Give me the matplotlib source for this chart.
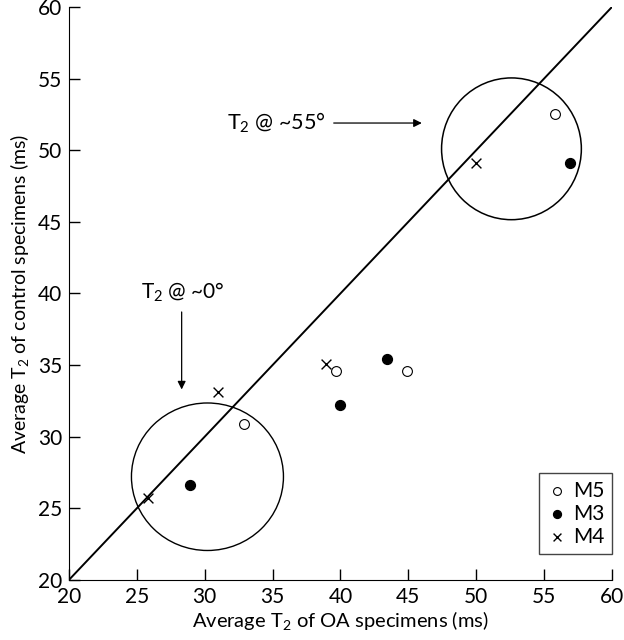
import matplotlib
matplotlib.use('Agg')
import matplotlib.pyplot as plt
from matplotlib.patches import Ellipse

# --- data
m5_x = [55.8, 32.9, 39.7, 44.9]
m5_y = [52.5, 30.9, 34.6, 34.6]
m3_x = [56.9, 28.9, 40.0, 43.4]
m3_y = [49.1, 26.6, 32.2, 35.4]
m4_x = [50.0, 25.8, 31.0, 38.9]
m4_y = [49.1, 25.7, 33.1, 35.1]

ticks = [20, 25, 30, 35, 40, 45, 50, 55, 60]

plt.rcParams['font.family'] = ['Lato', 'DejaVu Sans']
plt.rcParams['mathtext.fontset'] = 'custom'
plt.rcParams['mathtext.rm'] = 'Lato'
fig = plt.figure(figsize=(6.24, 6.4), dpi=100)
ax = fig.add_axes([0.1106, 0.094, 0.870, 0.895])

# identity line
ax.plot([20, 60], [20, 60], color='black', lw=1.4, zorder=2)

# groups
ax.add_patch(Ellipse((52.6, 50.1), 10.3, 9.9, fill=False, ec='black', lw=1.1))
ax.add_patch(Ellipse((30.2, 27.2), 11.2, 10.3, fill=False, ec='black', lw=1.0))

ax.scatter(m5_x, m5_y, s=50, facecolors='white', edgecolors='black', linewidths=0.8,
           label='M5', zorder=3)
ax.scatter(m3_x, m3_y, s=50, color='black', label='M3', zorder=3)
ax.scatter(m4_x, m4_y, s=50, marker='x', color='black', linewidths=1.0,
           label='M4', zorder=3)

# annotations
ax.annotate('', xy=(28.3, 33.1), xytext=(28.3, 38.9),
            arrowprops=dict(arrowstyle='-|>', color='black', lw=0.9,
                            mutation_scale=12))
ax.text(28.4, 40.1, 'T$_\\mathrm{2}$ @ ~0°', ha='center', va='center', fontsize=15)
ax.annotate('', xy=(46.2, 51.9), xytext=(39.3, 51.9),
            arrowprops=dict(arrowstyle='-|>', color='black', lw=0.9,
                            mutation_scale=12))
ax.text(35.3, 51.9, 'T$_\\mathrm{2}$ @ ~55°', ha='center', va='center', fontsize=15.5)

ax.set_xlim(20, 60)
ax.set_ylim(20, 60)
ax.set_xticks(ticks)
ax.set_yticks(ticks)
ax.tick_params(direction='in', length=8, width=1, labelsize=15, pad=5)
ax.spines['top'].set_visible(False)
ax.spines['right'].set_visible(False)
ax.set_xlabel('Average T$_\\mathrm{2}$ of OA specimens (ms)', fontsize=14.5, labelpad=2)
ax.set_ylabel('Average T$_\\mathrm{2}$ of control specimens (ms)', fontsize=14, labelpad=4)

leg = ax.legend(loc='lower right', bbox_to_anchor=(1.0, 0.045), fontsize=15,
                fancybox=False, edgecolor='#444444', framealpha=1,
                handletextpad=0.3, borderpad=0.35, labelspacing=0.15,
                handlelength=1.0, markerscale=0.8, borderaxespad=0)
leg.get_frame().set_linewidth(1.0)

fig.savefig('out.png', dpi=100)
